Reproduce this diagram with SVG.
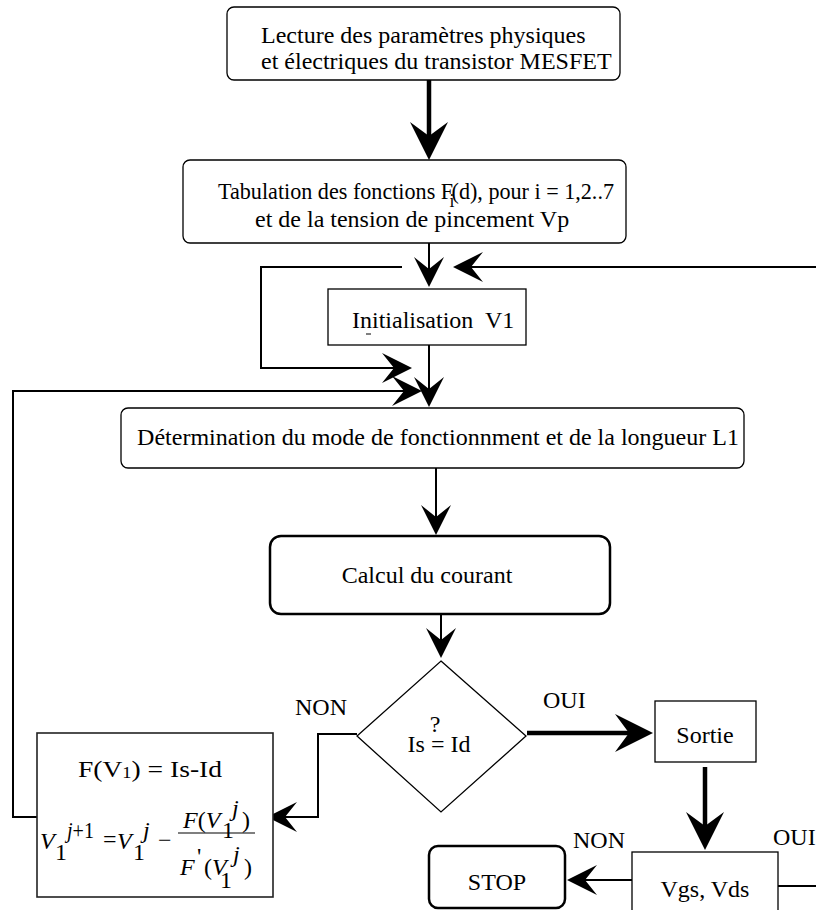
<svg xmlns="http://www.w3.org/2000/svg" width="816" height="910" viewBox="0 0 816 910">
<defs>
<style>
text{font-family:"Liberation Serif","Times New Roman",serif;font-size:24px;fill:#000}
.box{fill:#fff;stroke:#000;stroke-width:1.3}
.bold{fill:#fff;stroke:#000;stroke-width:2.5}
.c{fill:none;stroke:#000;stroke-width:2}
.ct{fill:none;stroke:#000;stroke-width:4.5}
.it{font-style:italic}
.mid{text-anchor:middle}
</style>
<marker id="ah" viewBox="-32 -17 34 34" refX="-8" refY="0" markerWidth="34" markerHeight="34" markerUnits="userSpaceOnUse" orient="auto"><path d="M0,0 L-30,-15 L-18,0 L-30,15 Z" fill="#000"/></marker>
<marker id="ahb" viewBox="-40 -21 42 42" refX="-10" refY="0" markerWidth="42" markerHeight="42" markerUnits="userSpaceOnUse" orient="auto"><path d="M0,0 L-38,-19 L-24,0 L-38,19 Z" fill="#000"/></marker>
</defs>
<rect width="816" height="910" fill="#fff"/>

<g id="connectors">
<path class="ct" d="M429,80 V150" marker-end="url(#ahb)"/>
<path class="c" d="M429,243 V279" marker-end="url(#ah)"/>
<path class="c" d="M402,267 H261 V368 H404" marker-end="url(#ah)"/>
<path class="c" d="M816,267 H461" marker-end="url(#ah)"/>
<path class="c" d="M429,345 V399" marker-end="url(#ah)"/>
<path class="c" d="M37,817 H13 V391 H414" marker-end="url(#ah)"/>
<path class="c" d="M436,468 V527" marker-end="url(#ah)"/>
<path class="c" d="M441,614 V650" marker-end="url(#ah)"/>
<path class="c" d="M357,734 H318 V817 H275" marker-end="url(#ah)"/>
<path class="ct" d="M527,733 H643" marker-end="url(#ahb)"/>
<path class="ct" d="M705,767 V840" marker-end="url(#ahb)"/>
<path class="c" d="M632,880 H575" marker-end="url(#ah)"/>
<path class="c" d="M778,886 H816"/>
<text x="295" y="715">NON</text>
<text x="543" y="708">OUI</text>
<text x="573" y="848">NON</text>
<text x="773" y="845">OUI</text>
</g>

<g id="lecture">
<rect class="box" x="227" y="7" width="393" height="73" rx="7"/>
<text x="261" y="43">Lecture des paramètres physiques</text>
<text x="261" y="69">et électriques du transistor MESFET</text>
</g>

<g id="tabulation">
<rect class="box" x="183" y="160" width="443" height="83" rx="7"/>
<text x="218" y="199" font-size="22.5" textLength="396" lengthAdjust="spacingAndGlyphs">Tabulation des fonctions F<tspan dx="-4" dy="8" font-size="19">i</tspan><tspan dx="-3" dy="-8">(d), pour i = 1,2..7</tspan></text>
<text x="255" y="227">et de la tension de pincement Vp</text>
</g>

<g id="init">
<rect class="box" x="328" y="289" width="198" height="56"/>
<text x="352" y="328" xml:space="preserve">Initialisation  V1</text>
<line x1="366" y1="334" x2="371" y2="334" stroke="#000" stroke-width="1"/>
</g>

<g id="determination">
<rect class="box" x="121" y="408" width="623" height="60" rx="7"/>
<text x="438" y="445" class="mid">Détermination du mode de fonctionnment et de la longueur L1</text>
</g>

<g id="calcul">
<rect class="bold" x="270" y="536" width="340" height="78" rx="11"/>
<text x="427" y="583" class="mid">Calcul du courant</text>
</g>

<g id="test">
<polygon class="box" points="441,661 526,736 441,812 357,736"/>
<text x="435" y="732" class="mid">?</text>
<text x="439" y="752" class="mid">Is = Id</text>
</g>

<g id="formule">
<rect x="37" y="733" width="236" height="164" fill="#fff" stroke="#222" stroke-width="1.6"/>
<text x="78" y="777" font-size="28" textLength="144" lengthAdjust="spacingAndGlyphs">F(V<tspan font-size="16" dy="1">1</tspan><tspan dy="-1">) = Is-Id</tspan></text>
<text x="40" y="849" class="it">V</text>
<text x="55" y="860" font-size="22">1</text>
<text x="67" y="838" font-size="17" textLength="27" lengthAdjust="spacingAndGlyphs"><tspan class="it">j</tspan>+1</text>
<text x="103" y="847" font-size="20">=</text>
<text x="117" y="849" class="it">V</text>
<text x="133" y="860" font-size="22">1</text>
<text x="143" y="838" font-size="20" class="it">j</text>
<text x="158" y="848" font-size="20">−</text>
<line x1="178" y1="833" x2="255" y2="833" stroke="#000" stroke-width="1.2"/>
<text x="183" y="828"><tspan class="it">F</tspan>(<tspan class="it">V</tspan></text>
<text x="222" y="838" font-size="22">1</text>
<text x="232" y="816" font-size="20" class="it">j</text>
<text x="242" y="828">)</text>
<text x="180" y="875" class="it">F</text>
<text x="197" y="864" font-size="18">'</text>
<text x="204" y="875">(<tspan class="it">V</tspan></text>
<text x="220" y="888" font-size="22">1</text>
<text x="233" y="862" font-size="20" class="it">j</text>
<text x="244" y="875">)</text>
</g>

<g id="sortie">
<rect class="box" x="655" y="701" width="101" height="61"/>
<text x="705" y="743" class="mid">Sortie</text>
</g>

<g id="vgsvds">
<rect class="box" x="632" y="852" width="146" height="70"/>
<text x="705" y="897" class="mid">Vgs, Vds</text>
</g>

<g id="stop">
<rect class="bold" x="429" y="846" width="136" height="62" rx="9"/>
<text x="497" y="890" class="mid">STOP</text>
</g>
</svg>
